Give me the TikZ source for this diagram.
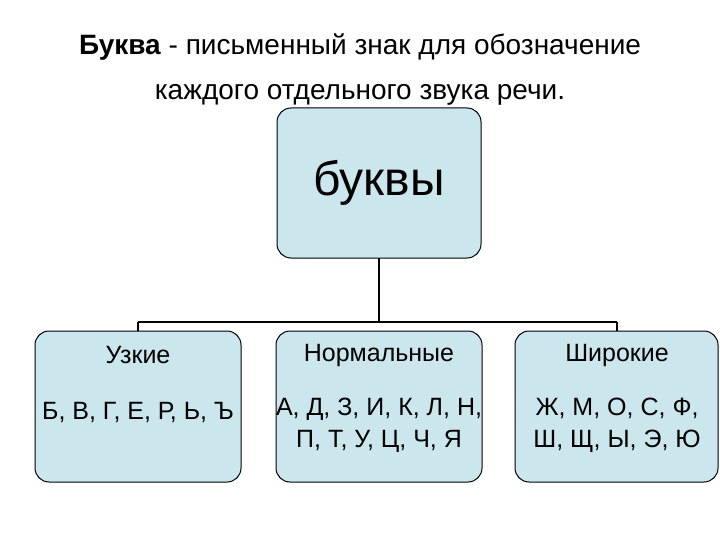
\documentclass[tikz,border=0pt]{standalone}
\usepackage{fontspec}
\setmainfont{Liberation Sans}
\definecolor{boxfill}{HTML}{CBE6EC}
\begin{document}
\begin{tikzpicture}[x=1pt,y=-1pt,
  bx/.style={draw=black,line width=1pt,fill=boxfill,rounded corners=14pt},
  ln/.style={line width=1.6pt},
  lab/.style={align=center,font=\fontsize{25}{32}\selectfont},
  ttl/.style={font=\fontsize{28}{32}\selectfont}]
\useasboundingbox (0,0) rectangle (720,540);
\node[ttl] (t1) at (360,47) {\textbf{Буква} - письменный знак для обозначение};
\node[ttl] (t2) at (360,95) {каждого отдельного звука речи.};
\draw[bx] (277,108) rectangle (481,258);
\node[font=\fontsize{48}{54}\selectfont] (top) at (379,183) {буквы};
\coordinate (tb) at (379,258);
\coordinate (hm) at (379,322);
\coordinate (hl) at (138,322);
\coordinate (hr) at (617,322);
\draw[ln] (tb) -- (hm);
\draw[ln] (hl) -- (hr);
\draw[ln] (hl) -- (138,332);
\draw[ln] (hr) -- (617,332);
\draw[bx] (35,331) rectangle (241,482);
\draw[bx] (276,331) rectangle (482,482);
\draw[bx] (515,331) rectangle (718,482);
\node[lab] (a1) at (138,355) {Узкие};
\node[lab] (a2) at (138,412) {Б, В, Г, Е, Р, Ь, Ъ};
\node[lab] (b1) at (379,355) {Нормальные};
\node[lab] (b2) at (379,425) {А, Д, З, И, К, Л, Н,\\ П, Т, У, Ц, Ч, Я};
\node[lab] (c1) at (617,355) {Широкие};
\node[lab] (c2) at (617,425) {Ж, М, О, С, Ф,\\ Ш, Щ, Ы, Э, Ю};
\end{tikzpicture}
\end{document}
